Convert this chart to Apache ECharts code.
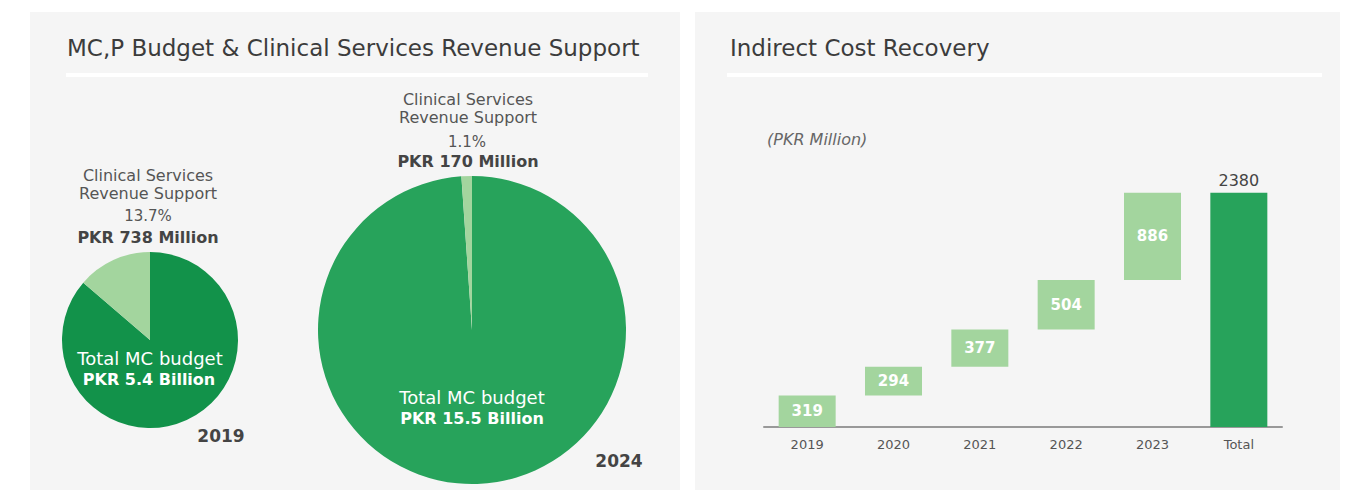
<!DOCTYPE html>
<html>
<head>
<meta charset="utf-8">
<script src="https://cdn.jsdelivr.net/npm/echarts@6/dist/echarts.min.js"></script>
<style>
  html, body { margin: 0; padding: 0; background: #ffffff; }
  #chart { width: 1350px; height: 490px; }
</style>
</head>
<body>
<div id="chart"></div>
<script>
(function() {
  // pies: [Total MC budget share, Clinical Services share] in %
  var pie2019 = [86.3, 13.7];
  var pie2024 = [98.9, 1.1];
  var sliceNames = ['Total MC budget', 'Clinical Services Revenue Support'];

  // waterfall
  var years = ['2019', '2020', '2021', '2022', '2023', 'Total'];
  var recovery = [319, 294, 377, 504, 886];
  var total = 2380;

  var ink = '#444444';
  var muted = '#555555';
  var light = '#a3d59e';
  var font = 'DejaVu Sans';

  var base = [];
  var run = 0;
  recovery.forEach(function(v) { base.push(run); run += v; });
  base.push(0);
  var vals = recovery.concat([total]);

  function text(x, y, str, size, weight, color, lh) {
    return {
      type: 'text', x: x, y: y, z: 10,
      style: {
        text: str, fill: color, font: 'normal ' + weight + ' ' + size + 'px "' + font + '"',
        lineHeight: lh || size + 2,
        textAlign: 'center', textVerticalAlign: 'middle'
      }
    };
  }

  var chart = echarts.init(document.getElementById('chart'), null, { renderer: 'svg' });
  chart.setOption({
    animation: false,
    textStyle: { fontFamily: font },
    graphic: [
      { type: 'rect', z: -10, shape: { x: 30, y: 12, width: 650, height: 478 }, style: { fill: '#f5f5f5' } },
      { type: 'rect', z: -10, shape: { x: 695, y: 12, width: 645, height: 478 }, style: { fill: '#f5f5f5' } },
      { type: 'rect', z: -9, shape: { x: 66, y: 73, width: 582, height: 4 }, style: { fill: '#ffffff' } },
      { type: 'rect', z: -9, shape: { x: 727, y: 73, width: 595, height: 4 }, style: { fill: '#ffffff' } },
      { type: 'text', x: 67, y: 48, z: 10, style: { text: 'MC,P Budget & Clinical Services Revenue Support', fill: '#3c3c3c',
        font: 'normal normal 23px "' + font + '"', textVerticalAlign: 'middle' } },
      { type: 'text', x: 730, y: 48, z: 10, style: { text: 'Indirect Cost Recovery', fill: '#3c3c3c',
        font: 'normal normal 23px "' + font + '"', textVerticalAlign: 'middle' } },
      { type: 'text', x: 767, y: 139, z: 10, style: { text: '(PKR Million)', fill: '#666666',
        font: 'italic normal 16px "' + font + '"', textVerticalAlign: 'middle' } },

      text(148, 184, 'Clinical Services\nRevenue Support', 16, 'normal', muted, 18),
      text(148, 216, '13.7%', 15, 'normal', muted),
      text(148, 237, 'PKR 738 Million', 16, 'bold', ink),
      text(150, 358, 'Total MC budget', 18, 'normal', '#ffffff'),
      text(149, 379, 'PKR 5.4 Billion', 16, 'bold', '#ffffff'),
      text(221, 436, '2019', 17, 'bold', ink),

      text(468, 108, 'Clinical Services\nRevenue Support', 16, 'normal', muted, 18),
      text(467, 142, '1.1%', 15, 'normal', muted),
      text(468, 161, 'PKR 170 Million', 16, 'bold', ink),
      text(472, 397, 'Total MC budget', 18, 'normal', '#ffffff'),
      text(472, 418, 'PKR 15.5 Billion', 16, 'bold', '#ffffff'),
      text(619, 461, '2024', 17, 'bold', ink)
    ],
    grid: { left: 764, width: 518, top: 171, bottom: 63 },
    xAxis: {
      type: 'category',
      data: years,
      axisLine: { lineStyle: { color: '#999999', width: 2 } },
      axisTick: { show: false },
      axisLabel: { color: muted, fontSize: 13, margin: 11 }
    },
    yAxis: { type: 'value', min: 0, max: 2600, show: false, splitLine: { show: false } },
    series: [
      {
        type: 'pie', radius: 88, center: [150, 340], startAngle: 90, clockwise: true,
        label: { show: false }, silent: true,
        data: pie2019.map(function(v, i) {
          return { value: v, name: sliceNames[i], itemStyle: { color: i ? light : '#12924a' } };
        })
      },
      {
        type: 'pie', radius: 154, center: [472, 330], startAngle: 90, clockwise: true,
        label: { show: false }, silent: true,
        data: pie2024.map(function(v, i) {
          return { value: v, name: sliceNames[i], itemStyle: { color: i ? light : '#27a35b' } };
        })
      },
      {
        type: 'bar', stack: 'w', barWidth: 57, silent: true,
        itemStyle: { color: 'transparent' },
        data: base
      },
      {
        type: 'bar', stack: 'w', barWidth: 57,
        data: vals.map(function(v, i) {
          var last = i === vals.length - 1;
          return {
            value: v,
            itemStyle: { color: last ? '#27a35b' : light },
            label: last
              ? { show: true, position: 'top', color: ink, fontSize: 16, fontWeight: 'normal', distance: 4 }
              : { show: true, position: 'inside', color: '#ffffff', fontSize: 15, fontWeight: 'bold' }
          };
        })
      }
    ]
  });
  window.addEventListener('resize', function() { chart.resize(); });
})();
</script>
</body>
</html>
